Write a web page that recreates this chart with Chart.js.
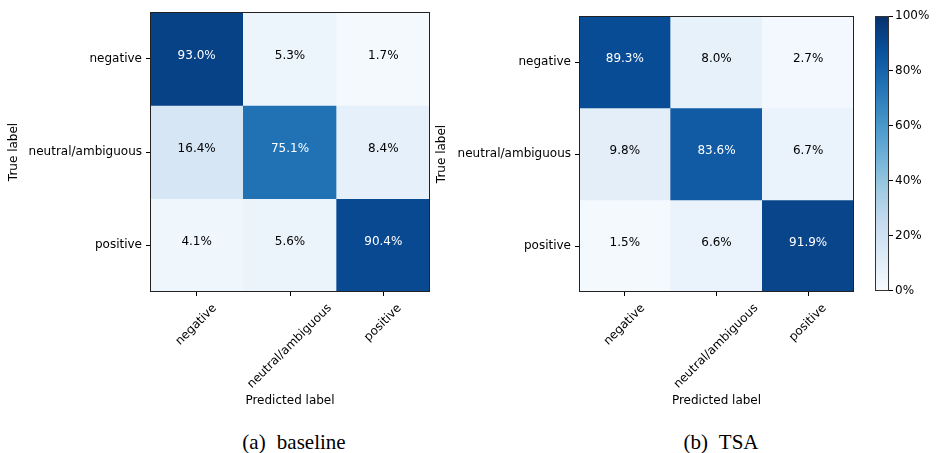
<!DOCTYPE html>
<html>
<head>
<meta charset="utf-8">
<script src="https://cdn.jsdelivr.net/npm/chart.js@4.4.1/dist/chart.umd.min.js"></script>
<style>
  body { margin: 0; background: #fff; }
  #page { position: relative; width: 939px; height: 453px; background: #fff; overflow: hidden; }
  canvas { position: absolute; top: 0; }
  .caption {
    position: absolute; width: 200px; text-align: center;
    font-family: "Liberation Serif", serif; font-size: 21px; line-height: 21px;
    word-spacing: 6px; color: #000; top: 432px;
  }
</style>
</head>
<body>
<div id="page">
  <canvas id="baselineChart" width="440" height="415" style="left:0px"></canvas>
  <canvas id="tsaChart" width="440" height="415" style="left:430px"></canvas>
  <canvas id="colorbar" width="79" height="300" style="left:860px"></canvas>
  <div class="caption" style="left:194px">(a) baseline</div>
  <div class="caption" style="left:621px">(b) TSA</div>
</div>
<script>
// Class names (rows = true label, columns = predicted label)
const trueLabels = ['negative', 'neutral/ambiguous', 'positive'];
const predLabels = ['negative', 'neutral/ambiguous', 'positive'];

// Row-normalised confusion matrices, in percent
const baselinePct = [
    [93.0, 5.3, 1.7],
    [16.4, 75.1, 8.4],
    [4.1, 5.6, 90.4]
];
const tsaPct = [
    [89.3, 8.0, 2.7],
    [9.8, 83.6, 6.7],
    [1.5, 6.6, 91.9]
];

// Colorbar ticks (percent)
const colorbarTicks = [0, 20, 40, 60, 80, 100];

Chart.defaults.font.family = '"DejaVu Sans", sans-serif';
Chart.defaults.font.size = 12;
Chart.defaults.color = '#000';

// matplotlib "Blues" colormap
const bluesStops = [
    [247, 251, 255], [222, 235, 247], [198, 219, 239], [158, 202, 225],
    [107, 174, 214], [66, 146, 198], [33, 113, 181], [8, 81, 156], [8, 48, 107]
];
function blues(t) {
    t = Math.min(1, Math.max(0, t));
    const pos = t * (bluesStops.length - 1);
    const i = Math.min(Math.floor(pos), bluesStops.length - 2);
    const f = pos - i;
    const a = bluesStops[i], b = bluesStops[i + 1];
    const c = a.map((v, k) => Math.round(v + (b[k] - v) * f));
    return `rgb(${c[0]},${c[1]},${c[2]})`;
}

// Frame around the plot area
const framePlugin = {
    id: 'frame',
    afterDatasetsDraw(chart, args, opts) {
        const a = chart.chartArea, ctx = chart.ctx;
        ctx.save();
        ctx.strokeStyle = opts.color || '#222';
        ctx.lineWidth = 1;
        ctx.strokeRect(Math.round(a.left) + 0.5, Math.round(a.top) + 0.5,
            Math.round(a.right - a.left) - 1, Math.round(a.bottom - a.top) - 1);
        ctx.restore();
    }
};

// Percentages written in each cell (sits a little above the cell middle)
const cellTextPlugin = {
    id: 'cellText',
    afterDatasetsDraw(chart) {
        const ctx = chart.ctx;
        ctx.save();
        ctx.font = '12px "DejaVu Sans"';
        ctx.textAlign = 'center';
        ctx.textBaseline = 'middle';
        chart.data.datasets.forEach((ds, d) => {
            if (!ds.pct) return;
            chart.getDatasetMeta(d).data.forEach((bar, i) => {
                const v = ds.pct[i];
                ctx.fillStyle = v > 50 ? '#fff' : '#000';
                ctx.fillText(v.toFixed(1) + '%', bar.x, (bar.y + bar.base) / 2 - 3);
            });
        });
        ctx.restore();
    }
};

// x tick labels rotated 45 degrees, centred under each tick
const rotatedLabelsPlugin = {
    id: 'rotatedLabels',
    afterDraw(chart) {
        const scale = chart.scales.x;
        if (!scale || !chart.options.plugins.rotatedLabels) return;
        const ctx = chart.ctx;
        ctx.save();
        ctx.font = '12px "DejaVu Sans"';
        ctx.fillStyle = '#000';
        ctx.textAlign = 'right';
        ctx.textBaseline = 'top';
        const h = 13;
        scale.ticks.forEach((t, i) => {
            const label = predLabels[i];
            const w = ctx.measureText(label).width;
            const x = scale.getPixelForTick(i) + Math.SQRT1_2 * (w - h) / 2;
            const y = chart.chartArea.bottom + 4 + 6;
            ctx.save();
            ctx.translate(x, y);
            ctx.rotate(-Math.PI / 4);
            ctx.fillText(label, 0, 0);
            ctx.restore();
        });
        ctx.restore();
    }
};

function makeMatrix(canvasId, values, layout) {
    const datasets = values.map((row, r) => ({
        data: row.map(() => [r - 0.5, r + 0.5]),
        backgroundColor: row.map(v => blues(v / 100)),
        pct: row,
        grouped: false,
        barPercentage: 1,
        categoryPercentage: 1,
        borderWidth: 0
    }));
    return new Chart(document.getElementById(canvasId), {
        type: 'bar',
        data: { labels: predLabels, datasets: datasets },
        plugins: [framePlugin, cellTextPlugin, rotatedLabelsPlugin],
        options: {
            responsive: false,
            animation: false,
            events: [],
            layout: { padding: { top: layout.top, right: layout.right, left: 0, bottom: 0 } },
            plugins: {
                legend: { display: false },
                tooltip: { enabled: false },
                rotatedLabels: {}
            },
            scales: {
                x: {
                    type: 'category',
                    offset: true,
                    grid: { offset: false, drawOnChartArea: false, tickLength: 4, color: '#000' },
                    border: { display: false },
                    ticks: { display: false },
                    title: { display: true, text: 'Predicted label', padding: { top: 0, bottom: 7 } },
                    afterFit: s => { s.height = 123; }
                },
                y: {
                    type: 'linear',
                    reverse: true,
                    min: -0.5,
                    max: 2.5,
                    afterBuildTicks: s => { s.ticks = trueLabels.map((_, i) => ({ value: i })); },
                    grid: { drawOnChartArea: false, tickLength: 4, color: '#000' },
                    border: { display: false },
                    ticks: { padding: 4, callback: v => trueLabels[v] },
                    title: { display: true, text: 'True label', padding: { top: layout.titlePad, bottom: 0 } },
                    afterFit: s => { s.width = layout.yWidth; }
                }
            }
        }
    });
}

makeMatrix('baselineChart', baselinePct, { top: 12, right: 10, yWidth: 150, titlePad: 7 });
makeMatrix('tsaChart', tsaPct, { top: 16, right: 16, yWidth: 149, titlePad: 5 });

// Colorbar: a single bar spanning 0-100% filled with the colormap gradient
new Chart(document.getElementById('colorbar'), {
    type: 'bar',
    data: {
        labels: [''],
        datasets: [{
            data: [[colorbarTicks[0], colorbarTicks[colorbarTicks.length - 1]]],
            barPercentage: 1,
            categoryPercentage: 1,
            borderWidth: 0,
            backgroundColor: c => {
                const chart = c.chart;
                if (!chart.chartArea) return null;
                const y = chart.scales.y;
                const g = chart.ctx.createLinearGradient(0, y.getPixelForValue(0), 0, y.getPixelForValue(100));
                bluesStops.forEach((_, i) => {
                    const t = i / (bluesStops.length - 1);
                    g.addColorStop(t, blues(t));
                });
                return g;
            }
        }]
    },
    plugins: [framePlugin],
    options: {
        responsive: false,
        animation: false,
        events: [],
        layout: { padding: { top: 16, bottom: 8, left: 15, right: 0 } },
        plugins: { legend: { display: false }, tooltip: { enabled: false }, frame: { color: '#333' } },
        scales: {
            x: { display: false, offset: true },
            y: {
                position: 'right',
                min: 0,
                max: 100,
                afterBuildTicks: s => { s.ticks = colorbarTicks.map(v => ({ value: v })); },
                grid: { drawOnChartArea: false, tickLength: 4, color: '#000' },
                border: { display: false },
                ticks: { padding: 2, callback: v => v + '%' },
                afterFit: s => { s.width = 50; }
            }
        }
    }
});
</script>
</body>
</html>
